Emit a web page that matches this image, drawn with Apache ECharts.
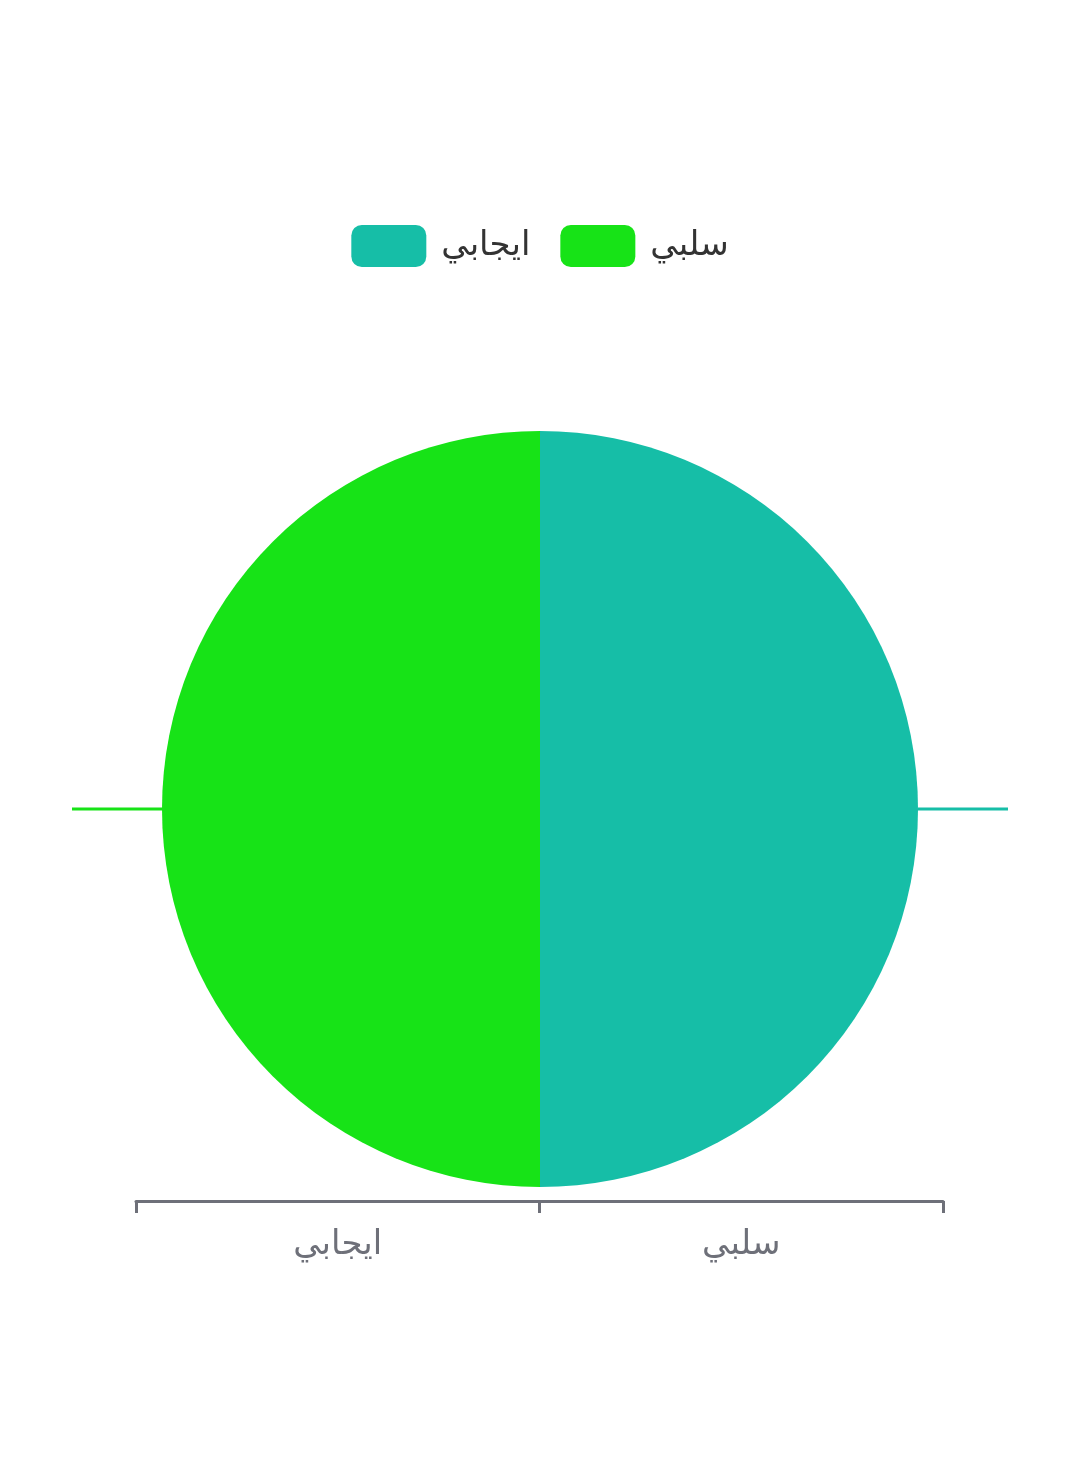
<!DOCTYPE html>
<html>
<head>
<meta charset="utf-8">
<script src="https://cdn.jsdelivr.net/npm/echarts@6/dist/echarts.min.js"></script>
<style>
  html, body { margin: 0; padding: 0; background: #fff; }
  #chart { width: 1080px; height: 1473px; }
</style>
</head>
<body>
<div id="chart"></div>
<script>
// بيانات الرسم
const categories = ['ايجابي', 'سلبي'];
const values = [50, 50];
const colors = ['#16BEA7', '#17E317'];

const chart = echarts.init(document.getElementById('chart'));

const pieData = categories.map((name, i) => ({
    name: name,
    value: values[i],
    itemStyle: { color: colors[i] }
}));

const option = {
    backgroundColor: '#fff',
    textStyle: { fontFamily: 'DejaVu Sans, sans-serif' },
    legend: {
        top: 220,
        left: 'center',
        itemWidth: 75,
        itemHeight: 42,
        itemGap: 30,
        textStyle: { fontSize: 34, color: '#333', padding: [0, 0, 0, 10] },
        data: categories
    },
    grid: { left: 136, right: 137, bottom: 272, top: 430 },
    xAxis: {
        type: 'category',
        data: categories,
        axisLine: { show: true, lineStyle: { color: '#6E7079', width: 3 } },
        axisTick: { show: true, length: 12, lineStyle: { color: '#6E7079', width: 3 } },
        axisLabel: { fontSize: 34, color: '#6E7079', margin: 27 }
    },
    yAxis: { type: 'value', show: false },
    series: [
        {
            type: 'pie',
            center: [540, 809],
            radius: 378,
            data: pieData,
            label: { show: true, formatter: ' ', color: 'transparent' },
            labelLine: { show: true, length: 45, length2: 45, lineStyle: { width: 3 } },
            emphasis: { disabled: true }
        }
    ]
};

chart.setOption(option);

window.addEventListener('resize', function () {
    chart.resize();
});
</script>
</body>
</html>
